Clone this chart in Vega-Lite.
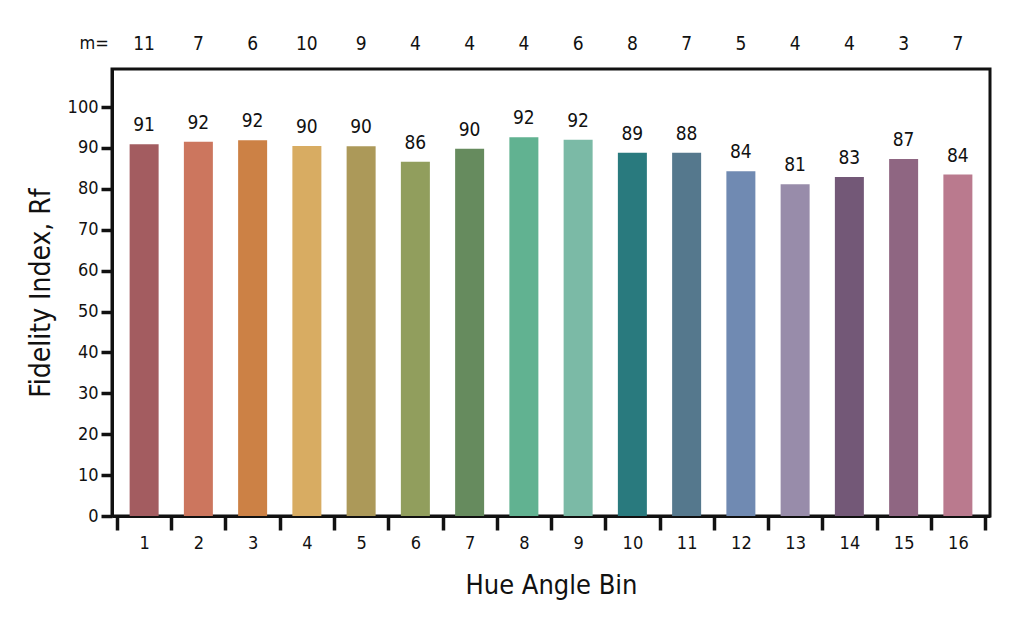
{
  "$schema": "https://vega.github.io/schema/vega-lite/v6.json",
  "description": "Fidelity index by hue angle bin, TM-30 style bar chart.",
  "autosize": "none",
  "padding": {"left": 112, "top": 69, "right": 34, "bottom": 124},
  "width": 878,
  "height": 447,
  "background": "white",
  "config": {
    "font": "DejaVu Sans Condensed",
    "view": {"stroke": "#111111", "strokeWidth": 3},
    "axis": {"labelColor": "#111111", "titleColor": "#111111", "domainColor": "#111111", "tickColor": "#111111", "grid": false}
  },
  "data": {
    "values": [
      {"bin": 1, "rf": 90.9, "label": 91, "m": 11},
      {"bin": 2, "rf": 91.5, "label": 92, "m": 7},
      {"bin": 3, "rf": 91.9, "label": 92, "m": 6},
      {"bin": 4, "rf": 90.5, "label": 90, "m": 10},
      {"bin": 5, "rf": 90.4, "label": 90, "m": 9},
      {"bin": 6, "rf": 86.6, "label": 86, "m": 4},
      {"bin": 7, "rf": 89.8, "label": 90, "m": 4},
      {"bin": 8, "rf": 92.6, "label": 92, "m": 4},
      {"bin": 9, "rf": 92.0, "label": 92, "m": 6},
      {"bin": 10, "rf": 88.8, "label": 89, "m": 8},
      {"bin": 11, "rf": 88.8, "label": 88, "m": 7},
      {"bin": 12, "rf": 84.3, "label": 84, "m": 5},
      {"bin": 13, "rf": 81.1, "label": 81, "m": 4},
      {"bin": 14, "rf": 82.9, "label": 83, "m": 4},
      {"bin": 15, "rf": 87.3, "label": 87, "m": 3},
      {"bin": 16, "rf": 83.5, "label": 84, "m": 7}
    ]
  },
  "encoding": {
    "x": {
      "field": "bin",
      "type": "quantitative",
      "scale": {"domain": [0.5, 16.5], "nice": false, "zero": false},
      "axis": {
        "title": "Hue Angle Bin",
        "titleFontSize": 27,
        "titleFontWeight": "normal",
        "titlePadding": 20,
        "values": [0.5, 1, 1.5, 2, 2.5, 3, 3.5, 4, 4.5, 5, 5.5, 6, 6.5, 7, 7.5, 8, 8.5, 9, 9.5, 10, 10.5, 11, 11.5, 12, 12.5, 13, 13.5, 14, 14.5, 15, 15.5, 16, 16.5],
        "labelExpr": "datum.value % 1 === 0 ? '' + datum.value : ''",
        "labelFontSize": 18,
        "labelPadding": 4,
        "labelFlush": false,
        "labelOverlap": false,
        "tickSize": 14,
        "tickWidth": 3.5,
        "tickOpacity": {"condition": {"test": "datum.value % 1 === 0", "value": 0}, "value": 1},
        "domainWidth": 3
      }
    },
    "y": {
      "field": "rf",
      "type": "quantitative",
      "scale": {"domain": [0, 109.3], "nice": false},
      "axis": {
        "title": "Fidelity Index, Rf",
        "titleFontSize": 28,
        "titleFontWeight": "normal",
        "titlePadding": 12,
        "values": [0, 10, 20, 30, 40, 50, 60, 70, 80, 90, 100],
        "labelFontSize": 18,
        "labelPadding": 3,
        "tickSize": 11,
        "tickWidth": 3.5,
        "domainWidth": 3
      }
    }
  },
  "layer": [
    {
      "mark": {"type": "bar", "width": 29},
      "encoding": {
        "color": {
          "field": "bin",
          "type": "nominal",
          "scale": {
            "domain": [1, 2, 3, 4, 5, 6, 7, 8, 9, 10, 11, 12, 13, 14, 15, 16],
            "range": ["#A35C60", "#CC765E", "#CC8145", "#D8AC62", "#AC9959", "#919E5D", "#668B5E", "#61B291", "#7BBAA6", "#297A7E", "#55788D", "#708AB2", "#988CAA", "#735877", "#8F6682", "#BA7A8E"]
          },
          "legend": null
        }
      }
    },
    {
      "mark": {"type": "text", "fontSize": 19, "baseline": "alphabetic", "dy": -13, "color": "#111111"},
      "encoding": {"text": {"field": "label"}}
    },
    {
      "mark": {"type": "text", "fontSize": 19, "baseline": "middle", "color": "#111111"},
      "encoding": {
        "y": {"datum": 115.4, "type": "quantitative"},
        "text": {"field": "m"}
      }
    },
    {
      "transform": [{"filter": "datum.bin === 1"}],
      "mark": {"type": "text", "text": "m=", "fontSize": 18, "baseline": "middle", "color": "#111111"},
      "encoding": {
        "x": {"datum": 0.08, "type": "quantitative"},
        "y": {"datum": 115.4, "type": "quantitative"}
      }
    }
  ]
}
